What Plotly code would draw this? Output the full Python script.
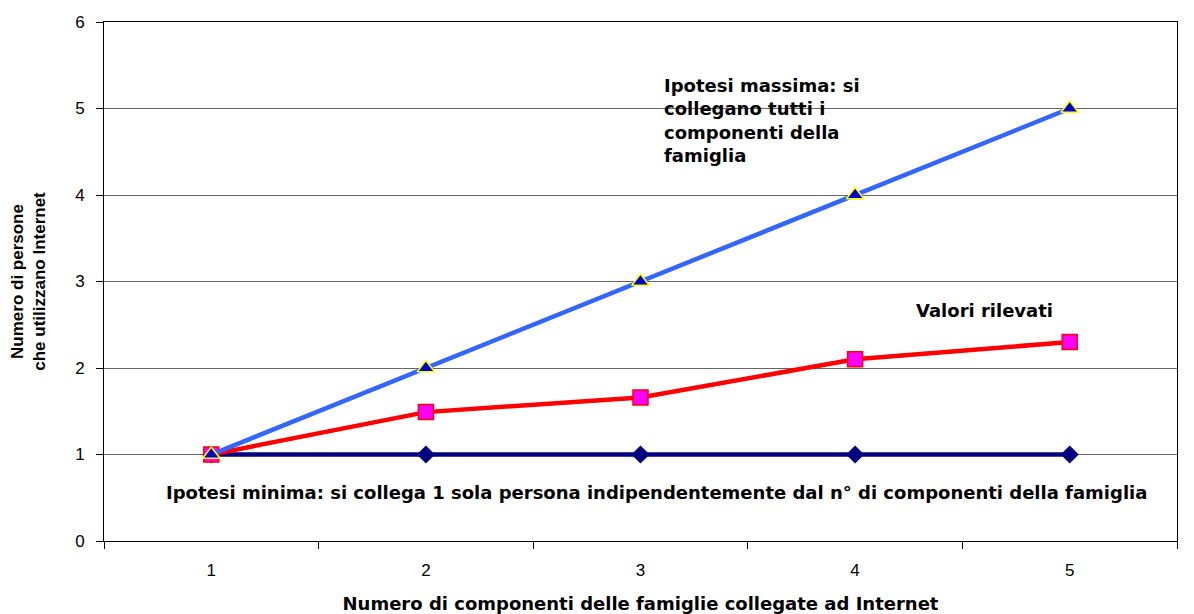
import plotly.graph_objects as go

CATEGORIE = ["1", "2", "3", "4", "5"]
IPOTESI_MINIMA = [1, 1, 1, 1, 1]
VALORI_RILEVATI = [1.0, 1.49, 1.66, 2.10, 2.30]
IPOTESI_MASSIMA = [1, 2, 3, 4, 5]

Y_TICKS = [0, 1, 2, 3, 4, 5, 6]

FONT = "Liberation Sans, Arial, sans-serif"
FONT_WIDE = "DejaVu Sans, Liberation Sans, sans-serif"


def main() -> None:
    fig = go.Figure()

    # Ipotesi minima (linea blu scuro con rombi)
    fig.add_trace(go.Scatter(
        x=CATEGORIE, y=IPOTESI_MINIMA,
        mode="lines+markers",
        line=dict(color="#000080", width=4.5),
        marker=dict(symbol="diamond", size=14, color="#000080"),
        name="Ipotesi minima",
    ))

    # Valori rilevati (linea rossa con quadrati magenta)
    fig.add_trace(go.Scatter(
        x=CATEGORIE, y=VALORI_RILEVATI,
        mode="lines+markers",
        line=dict(color="#FF0000", width=4.5),
        marker=dict(symbol="square", size=15, color="#FF00FF",
                    line=dict(color="#FF0000", width=1.5)),
        name="Valori rilevati",
    ))

    # Ipotesi massima (linea azzurra con triangoli)
    fig.add_trace(go.Scatter(
        x=CATEGORIE, y=IPOTESI_MASSIMA,
        mode="lines+markers",
        line=dict(color="#3366FF", width=4.5),
        marker=dict(symbol="triangle-up", size=15, color="#0000CC",
                    line=dict(color="#FFFF00", width=1.5)),
        name="Ipotesi massima",
    ))

    bold = dict(family=FONT_WIDE, size=18, color="black", weight="bold")

    fig.add_annotation(
        text="Ipotesi massima: si<br>collegano tutti i<br>componenti della<br>famiglia",
        xref="paper", yref="paper", x=0.52, y=0.902,
        xanchor="left", yanchor="top", align="left",
        showarrow=False, font=bold,
    )
    fig.add_annotation(
        text="Valori rilevati",
        xref="paper", yref="paper", x=0.821, y=0.445,
        xanchor="center", yanchor="middle",
        showarrow=False, font=bold,
    )
    fig.add_annotation(
        text="Ipotesi minima: si collega 1 sola persona indipendentemente dal n° di componenti della famiglia",
        xref="paper", yref="paper", x=0.515, y=0.0925,
        xanchor="center", yanchor="middle",
        showarrow=False, font=bold,
    )

    # la pagina ha un margine di 8 px attorno al grafico
    fig.update_layout(
        width=1186, height=606,
        margin=dict(l=96, r=17, t=14, b=73),
        plot_bgcolor="white", paper_bgcolor="white",
        showlegend=False,
        font=dict(family=FONT, size=17, color="black"),
        xaxis=dict(
            type="category",
            range=[-0.5, 4.5],
            tickson="boundaries",
            ticks="outside", ticklen=7, tickcolor="black",
            ticklabelstandoff=14,
            showline=True, linecolor="black", linewidth=1, mirror=True,
            showgrid=False,
            tickfont=dict(family=FONT, size=17),
            automargin=False,
            title=dict(
                text="Numero di componenti delle famiglie collegate ad Internet",
                font=dict(family=FONT_WIDE, size=18, weight="bold"),
                standoff=18,
            ),
        ),
        yaxis=dict(
            range=[0, 6],
            tickvals=Y_TICKS,
            ticks="outside", ticklen=7, tickcolor="black",
            ticklabelstandoff=8,
            showline=True, linecolor="black", linewidth=1, mirror=True,
            showgrid=True, gridcolor="#666666", gridwidth=1,
            zeroline=False,
            tickfont=dict(family=FONT, size=17),
            automargin=False,
            title=dict(
                text="Numero di persone<br>che utilizzano Internet",
                font=dict(family=FONT, size=17, weight="bold"),
                standoff=38,
            ),
        ),
    )

    fig.write_html("out.html")


if __name__ == "__main__":
    main()
